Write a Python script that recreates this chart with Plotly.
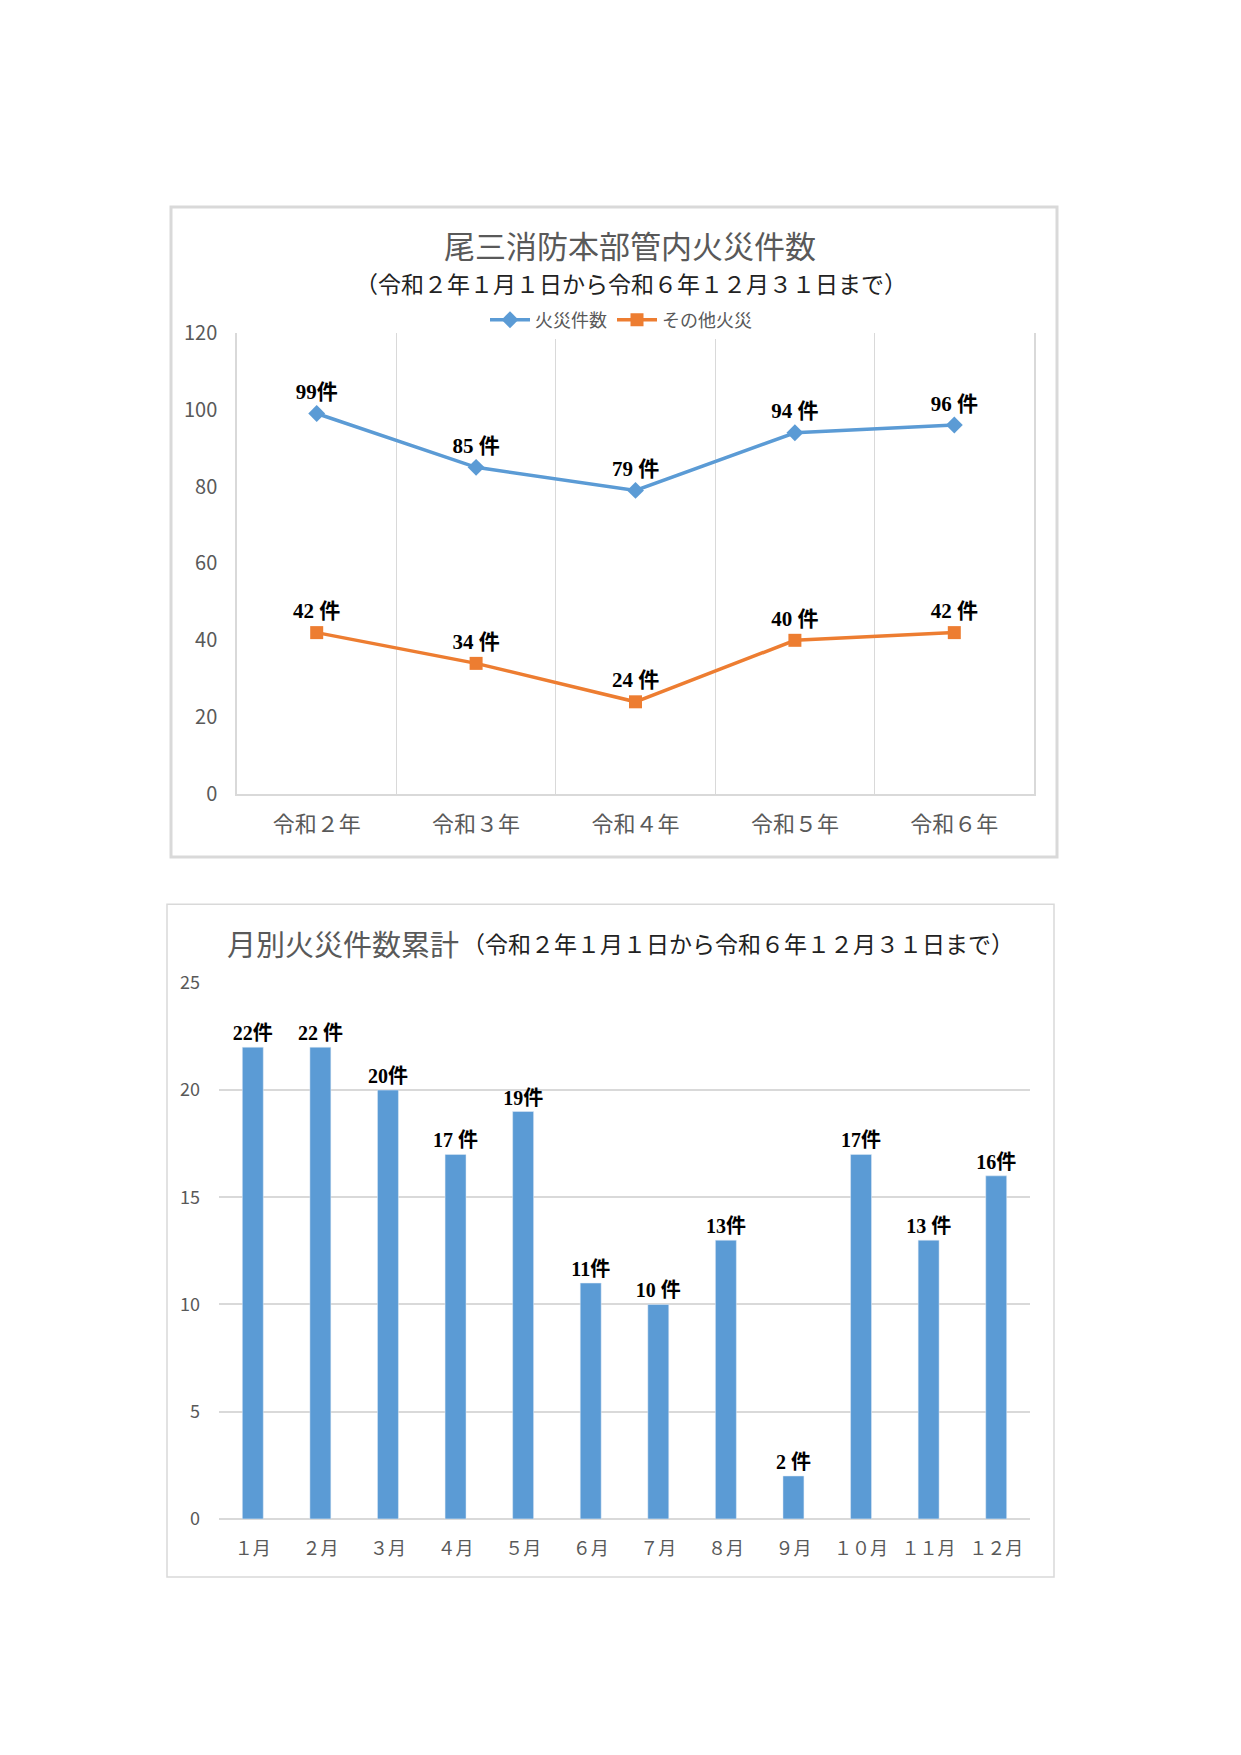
import plotly.graph_objects as go

# data
years = ["令和２年", "令和３年", "令和４年", "令和５年", "令和６年"]
fires = [99, 85, 79, 94, 96]
fires_labels = ["99件", "85 件", "79 件", "94 件", "96 件"]
other_fires = [42, 34, 24, 40, 42]
other_labels = ["42 件", "34 件", "24 件", "40 件", "42 件"]

months = ["１月", "２月", "３月", "４月", "５月", "６月",
          "７月", "８月", "９月", "１０月", "１１月", "１２月"]
monthly = [22, 22, 20, 17, 19, 11, 10, 13, 2, 17, 13, 16]
monthly_labels = ["22件", "22 件", "20件", "17 件", "19件", "11件",
                  "10 件", "13件", "2 件", "17件", "13 件", "16件"]

W, H = 1241, 1755
BLUE = "#5B9BD5"
ORANGE = "#ED7D31"
GREY = "#595959"
GRID = "#D9D9D9"
SANS = "Noto Sans CJK JP, Noto Sans, sans-serif"
SERIF = "Liberation Serif, Noto Sans CJK JP, serif"


def px(x):
    return x / W


def py(y):
    return 1 - y / H


fig = go.Figure()

# top chart: yearly line chart
fig.add_trace(go.Scatter(
    x=years, y=fires, name="火災件数", mode="lines+markers+text",
    line=dict(color=BLUE, width=3.5),
    marker=dict(symbol="diamond", size=13, color=BLUE),
    text=fires_labels, textposition="top center",
    textfont=dict(family=SERIF, size=21, color="black", weight="bold"),
    xaxis="x", yaxis="y", cliponaxis=False,
))
fig.add_trace(go.Scatter(
    x=years, y=other_fires, name="その他火災", mode="lines+markers+text",
    line=dict(color=ORANGE, width=3.5),
    marker=dict(symbol="square", size=13, color=ORANGE),
    text=other_labels, textposition="top center",
    textfont=dict(family=SERIF, size=21, color="black", weight="bold"),
    xaxis="x", yaxis="y", cliponaxis=False,
))

# bottom chart: monthly bars
fig.add_trace(go.Bar(
    x=months, y=monthly, marker_color=BLUE, showlegend=False,
    text=monthly_labels, textposition="outside", constraintext="none",
    outsidetextfont=dict(family=SERIF, size=20, color="black", weight="bold"),
    xaxis="x2", yaxis="y2", cliponaxis=False,
))

fig.update_layout(
    width=W, height=H,
    margin=dict(l=0, r=0, t=0, b=0),
    paper_bgcolor="white", plot_bgcolor="white",
    font=dict(family=SANS, color=GREY),
    bargap=0.69,
    legend=dict(orientation="h", x=px(613), y=py(301), xanchor="center",
                yanchor="middle", font=dict(size=18, color=GREY),
                itemwidth=40),
    xaxis=dict(domain=[px(229), px(1026)], anchor="y",
               showgrid=True, gridcolor=GRID, tickson="boundaries",
               showline=True, linecolor=GRID, linewidth=1.5,
               ticks="", tickfont=dict(size=22, color=GREY),
               ticklabelstandoff=10, range=[-0.5, 4.5]),
    yaxis=dict(domain=[py(783), py(314)], anchor="x",
               range=[0, 120], dtick=20, showgrid=False, zeroline=False,
               showline=True, mirror=True, linecolor=GRID, linewidth=1.5,
               ticks="", tickfont=dict(size=20, color=GREY),
               ticklabelstandoff=14),
    xaxis2=dict(domain=[px(211), px(1022)], anchor="y2",
                showgrid=False, ticks="", showline=False,
                tickfont=dict(size=18, color=GREY),
                ticklabelstandoff=17, range=[-0.5, 11.5]),
    yaxis2=dict(domain=[py(1520), py(975)], anchor="x2",
                range=[0, 25], dtick=5, showgrid=True, gridcolor=GRID,
                gridwidth=1.5, zeroline=True, zerolinecolor=GRID,
                zerolinewidth=1.5, showline=False,
                tickfont=dict(size=18, color=GREY), ticklabelstandoff=18),
    shapes=[
        dict(type="rect", xref="paper", yref="paper",
             x0=px(163), x1=px(1049), y0=py(847), y1=py(186),
             line=dict(color=GRID, width=3), fillcolor="rgba(0,0,0,0)"),
        dict(type="rect", xref="paper", yref="paper",
             x0=px(159), x1=px(1046), y0=py(1579), y1=py(895),
             line=dict(color=GRID, width=1.5), fillcolor="rgba(0,0,0,0)"),
    ],
    annotations=[
        dict(text="尾三消防本部管内火災件数", xref="paper", yref="paper",
             x=px(622), y=py(224), xanchor="center", yanchor="middle",
             showarrow=False, font=dict(size=31, color=GREY)),
        dict(text="（令和２年１月１日から令和６年１２月３１日まで）",
             xref="paper", yref="paper", x=px(623), y=py(263),
             xanchor="center", yanchor="middle", showarrow=False,
             font=dict(size=23, color="#222222")),
        dict(text="月別火災件数累計", xref="paper", yref="paper",
             x=px(217), y=py(934), xanchor="left", yanchor="middle",
             showarrow=False, font=dict(size=29, color=GREY)),
        dict(text="（令和２年１月１日から令和６年１２月３１日まで）",
             xref="paper", yref="paper", x=px(452), y=py(934),
             xanchor="left", yanchor="middle", showarrow=False,
             font=dict(size=23, color="#222222")),
    ],
)

fig.write_html("out.html")
